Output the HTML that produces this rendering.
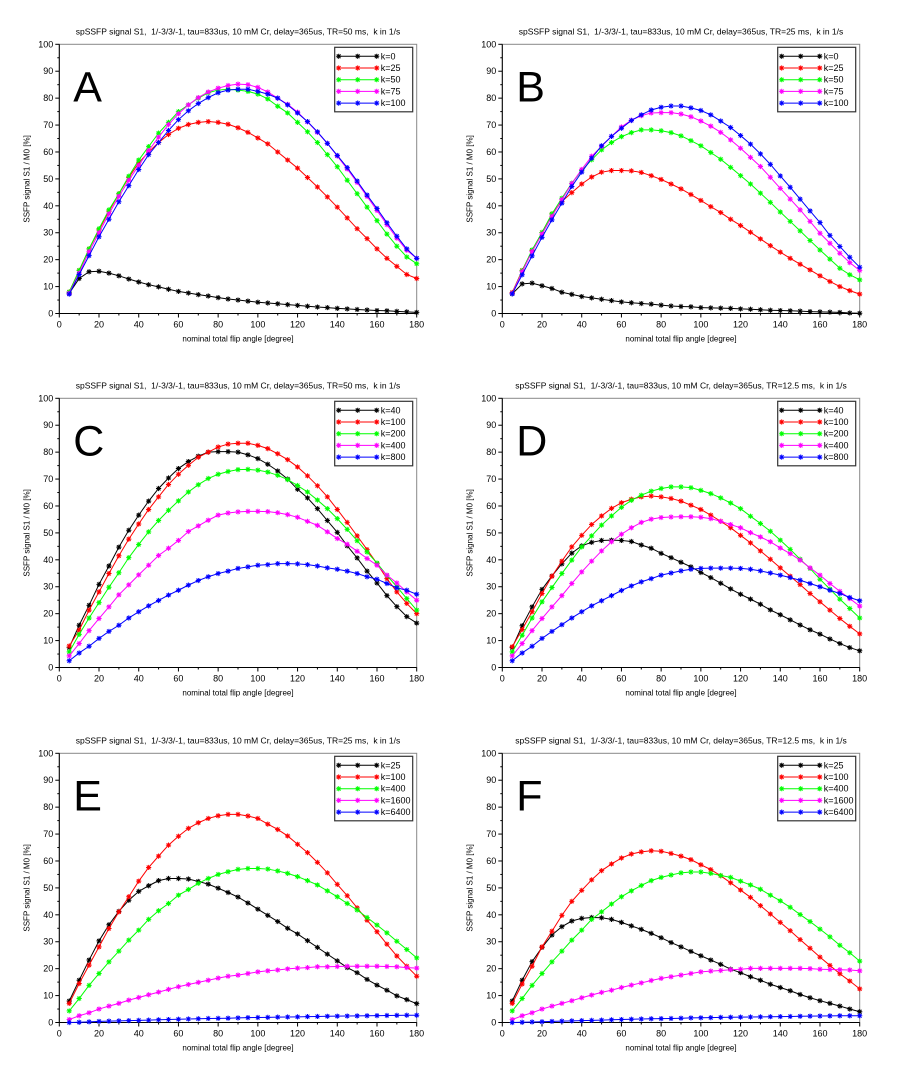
<!DOCTYPE html>
<html><head><meta charset="utf-8">
<style>
html,body{margin:0;padding:0;background:#fff;}
svg{display:block;font-family:"Liberation Sans","DejaVu Sans",sans-serif;}
</style></head>
<body>
<svg id="fig" width="920" height="1068" viewBox="0 0 920 1068" xmlns="http://www.w3.org/2000/svg"></svg>
<script>
const anglesX = [5,10,15,20,25,30,35,40,45,50,55,60,65,70,75,80,85,90,95,100,105,110,115,120,125,130,135,140,145,150,155,160,165,170,175,180];
const xTicks = [0,20,40,60,80,100,120,140,160,180];
const yTicks = [0,10,20,30,40,50,60,70,80,90,100];
const colors = ["#000000","#ff0000","#00ff00","#ff00ff","#0000ff"];
const panelLetters = ["A","B","C","D","E","F"];
const panelTR = ["50","25","50","12.5","25","12.5"];
const legendA = ["k=0","k=25","k=50","k=75","k=100"];
const legendC = ["k=40","k=100","k=200","k=400","k=800"];
const legendE = ["k=25","k=100","k=400","k=1600","k=6400"];

const A0 = [7.5,13,15.5,15.7,15,14,12.8,11.7,10.7,9.9,9,8.2,7.6,7,6.5,5.9,5.4,5,4.6,4.2,3.9,3.6,3.3,3,2.7,2.4,2.2,1.9,1.7,1.5,1.3,1.1,1,0.8,0.6,0.4];
const A1 = [8,16,24,31,38,44.5,50.5,56,60,63.5,66.5,68.8,70.2,71,71.3,71,70.3,69,67.3,65.2,63,60,57,54,50.5,47,43.3,39.5,35.5,31.5,27.8,24,20.5,17.5,14.5,13];
const A2 = [8,16,24,31.5,38.5,44.5,51,57,62,67,71,75,77.5,80,82,83,83.3,83,82.5,81.5,79.7,77,74.5,71,67.5,63.5,59,54.5,49.5,44.5,39.5,34.5,29.5,25,21,18.5];
const A3 = [7.5,15,23,30,37,43.5,49.5,55,60.5,65.5,70.2,74.2,77.5,80.2,82.3,83.7,84.7,85.2,85,84,82.3,80,77.7,74.8,71.2,67.3,63.2,58.5,53.7,48.7,43.5,38.3,33,28,23.5,20.5];
const A4 = [7.2,14.5,21.5,28.5,35,41.5,47.5,53.5,59,63.5,68,72,75.3,78,80.2,82,83,83.3,83.3,82.5,81.5,80,77.5,74.5,71.3,67.5,63.2,58.7,54.2,49.2,44,39,33.7,28.7,24,20.5];

const B0 = [7.3,11,11.3,10.3,9.3,7.9,7.1,6.3,5.8,5.3,4.8,4.3,4,3.7,3.5,3.1,2.8,2.6,2.5,2.2,2.1,2,1.9,1.7,1.6,1.4,1.2,1.1,1,0.9,0.7,0.6,0.5,0.4,0.2,0.1];
const B1 = [7.8,16,23.4,30.1,37,41.6,44.9,48.1,50.7,52.5,53.1,53.1,53,52.4,51.2,49.8,48.1,46.3,44.2,42,39.7,37.5,35,32.7,30.2,27.7,25.2,22.8,20.5,18.3,16.2,14,11.9,10,8.5,7.2];
const B2 = [7.5,15.9,23.6,30.1,37,42.8,48.4,53.1,57.1,60.8,63.5,65.7,67.2,68.2,68.2,67.9,67.2,66,64.2,62.3,59.8,57.3,54.3,51.2,48.1,44.7,41.3,37.7,34.2,30.7,27.1,23.6,20.2,16.8,14.4,12.5];
const B3 = [7.5,15.5,23,29.5,36.1,42.3,48.3,53.5,58.4,62.1,65.8,69.3,71.8,73.5,74.5,74.6,74.6,74.1,73.1,71.5,69.6,67.3,64.5,61.4,58,54.6,50.6,46.5,42.5,38.5,34.2,29.8,26.1,22.4,18.9,16];
const B4 = [7.3,14.4,21.4,28.3,34.8,41,47.2,52.5,57.7,62.3,65.8,68.8,71.7,73.8,75.6,76.6,77.1,77.1,76.4,75.4,73.8,71.5,69.1,66.1,62.9,59.3,55.4,51.1,46.9,42.5,38.1,33.8,29,24.9,20.9,17.2];

const C0 = [7.4,15.7,23.1,30.9,37.7,44.7,51,56.6,61.8,66.5,70.4,73.9,76.5,78.5,80,80.2,80.2,80,79,77.6,75.5,73,70,66.2,63,59,54.6,50.2,45.2,40.7,35.8,31.4,26.7,22.6,18.9,16.5];
const C1 = [8,13.9,21.3,28.1,34.9,41.5,47.7,53.3,58.7,63.4,68,71.8,75.1,78.1,80,81.9,83,83.3,83.3,82.5,81.3,79.4,77.2,74.5,71.2,67.5,63.4,58.7,53.9,48.9,43.8,38.6,33,28.1,23.8,20];
const C2 = [5.8,12.3,18.4,24.1,29.8,35.2,40.8,45.7,50.4,54.6,58.4,61.9,65.2,67.9,70.2,71.8,72.8,73.5,73.6,73.3,72.6,71.4,69.8,67.6,65.2,62.2,59,55.3,51.3,47.1,42.9,38.8,34.2,30,25.6,21.3];
const C3 = [4.3,8.9,13.7,18.2,22.5,27,30.7,34.4,38,41.6,44.3,47.2,50.5,52.6,54.7,56.6,57.4,57.8,58,58,57.9,57.5,56.8,55.8,54.3,52.8,50.4,47.9,45.8,43.2,40.5,38,34.3,31.4,28.1,25];
const C4 = [2.5,5.4,7.9,10.8,13.4,15.7,18.4,20.7,22.9,24.9,26.9,28.7,30.6,32.3,33.7,34.9,35.8,36.8,37.4,38,38.2,38.6,38.6,38.5,38.2,37.7,37,36.5,35.8,34.9,33.7,32.8,31.2,29.6,28.7,27.2];

const D0 = [7.4,15.5,22.5,29,34,38.5,42.5,45.2,46.5,47.2,47.3,47.2,46.8,45.5,44.3,42.4,40.8,39.1,37.4,35.3,33.4,31.3,29.2,27.2,25.4,23.5,21.4,19.6,17.7,15.8,14,12.4,10.6,8.9,7.4,6.2];
const D1 = [7.7,14.1,20.7,27.5,33.9,39.5,44.8,49.1,53.1,56.3,59.1,61.2,62.5,63.4,63.7,63.4,62.8,61.8,60.3,58.7,56.6,54.3,51.9,49.1,46.3,43.3,40.2,37,33.9,30.8,27.5,24.4,21.3,18.2,15.3,12.5];
const D2 = [5.8,12,18.4,24.4,29.7,34.9,39.9,44.8,48.9,52.9,56.3,59.5,62.1,64,65.5,66.5,67.1,67.1,66.8,65.8,64.6,63,61.1,59,56.2,53.5,50.6,47.3,43.9,40.2,36.8,32.8,29.1,25.4,21.9,18.4];
const D3 = [4.3,8.9,13.7,18.2,22.5,26.7,31.2,35.5,39.5,43.3,46.7,49.5,51.9,53.9,55.1,55.7,55.9,56,56,55.8,55.3,54.3,53.1,51.9,50.1,48.5,46.7,44.4,42.3,39.9,37,34.3,31.2,28.3,25.6,22.8];
const D4 = [2.5,5.4,7.9,10.8,13.4,15.9,18.4,20.7,22.9,24.8,26.7,28.6,30.3,31.8,33,34.3,35.1,35.9,36.5,36.8,36.9,36.9,36.9,36.8,36.5,35.9,35.1,34.3,33.4,32.4,31.2,30,28.7,27.5,26,24.8];

const E0 = [8,15.7,23.2,30.3,36.3,41.3,45.4,48.7,50.8,52.7,53.5,53.5,53.3,52.4,51.4,49.9,48.3,46.6,44.4,42.1,39.8,37.5,35,32.9,30.4,27.9,25.4,22.9,20.4,18.5,16,13.9,12,9.9,8.5,7];
const E1 = [7.1,14.5,21.3,28.1,34.9,41.1,46.7,52.5,57.6,61.8,65.9,69.2,72.1,74.2,75.8,76.8,77.3,77.3,76.7,75.8,73.7,71.7,69.3,66.2,63.1,59.5,55.6,51.3,47.1,42.6,38,33.7,29.1,24.7,20.9,17.2];
const E2 = [4.3,8.9,13.8,18.2,22.5,26.5,30.6,34.3,38.3,41.5,44.2,47.3,49.4,51.7,53.5,55,56,56.9,57.2,57.2,57,56.3,55.4,54.2,52.7,51.1,48.9,46.7,44.2,41.8,39,36.2,33.3,30.2,27.1,24];
const E3 = [1.1,2.5,3.6,5,6.1,7.1,8.3,9.3,10.3,11.3,12.3,13.3,14.1,14.9,15.7,16.5,17.2,17.6,18.2,18.8,19.2,19.5,19.9,20.2,20.4,20.7,20.7,20.8,20.9,20.9,20.9,20.9,20.8,20.7,20.4,20.2];
const E4 = [0,0.1,0.25,0.4,0.5,0.6,0.7,0.8,0.9,1,1.1,1.2,1.3,1.4,1.5,1.55,1.6,1.7,1.8,1.85,1.9,2,2.05,2.1,2.2,2.25,2.3,2.35,2.4,2.45,2.5,2.55,2.6,2.65,2.7,2.7];

const F0 = [8,15.7,22.6,27.9,32.5,35.6,37.7,38.7,39,38.9,38.3,37.2,35.9,34.6,33.1,31.5,29.7,28.1,26.4,24.8,23.2,21.6,19.8,18.5,17,15.7,14.2,13,11.8,10.4,9.2,8.1,7.1,6.1,5,4];
const F1 = [7.1,14.3,20.9,28.1,33.9,39.8,45,49.1,53,56.4,58.9,61.1,62.6,63.4,63.8,63.6,62.8,61.8,60.5,58.6,56.8,54.5,51.9,49.2,46.5,43.4,40.3,37.2,34.1,30.8,27.6,24.3,21.2,18.1,15.4,12.5];
const F2 = [4.3,8.9,13.8,18.2,22.5,26.5,30.6,34.3,38.3,41.1,44,46.7,48.9,50.9,52.7,53.9,54.8,55.6,55.9,55.9,55.4,54.6,53.9,52.5,51.1,49.5,47.3,45.2,42.8,40.1,37.5,34.7,31.8,28.7,25.9,22.8];
const F3 = [1.1,2.5,3.6,5,6.1,7.1,8.1,9.2,10.2,11.2,12,13,13.9,14.7,15.6,16.4,17,17.6,18.2,18.8,19.1,19.3,19.6,19.8,20.1,20.1,20.1,20.1,20.1,20.1,20,19.8,19.7,19.6,19.5,19.2];
const F4 = [0,0.1,0.2,0.3,0.4,0.5,0.6,0.7,0.8,0.9,1,1.1,1.2,1.3,1.4,1.45,1.5,1.6,1.7,1.75,1.8,1.9,1.95,2,2.05,2.1,2.15,2.2,2.25,2.3,2.35,2.4,2.45,2.5,2.5,2.5];

const panelSeries = [[A0,A1,A2,A3,A4],[B0,B1,B2,B3,B4],[C0,C1,C2,C3,C4],[D0,D1,D2,D3,D4],[E0,E1,E2,E3,E4],[F0,F1,F2,F3,F4]];
const panelLegends = [legendA,legendA,legendC,legendC,legendE,legendE];

const NS = "http://www.w3.org/2000/svg";
const svg = document.getElementById("fig");
function mk(tag, attrs, parent){
  const e = document.createElementNS(NS, tag);
  for (const k in attrs) e.setAttribute(k, attrs[k]);
  parent.appendChild(e);
  return e;
}
function star(g, cx, cy, col){
  const r = 2.6, d = 1.9;
  const p = mk("path", {d:`M${cx-r},${cy}H${cx+r}M${cx},${cy-r}V${cy+r}M${cx-d},${cy-d}L${cx+d},${cy+d}M${cx-d},${cy+d}L${cx+d},${cy-d}`, stroke:col, "stroke-width":1, fill:"none"}, g);
  
  
}

const colLeft = [59.3, 502.3];
const rowTop = [44.3, 398.3, 753.3];
const PW = 357.4, PH = 269.2;

for (let p = 0; p < 6; p++){
  const x0 = colLeft[p % 2], y0 = rowTop[Math.floor(p / 2)];
  const xs = v => x0 + v / 180 * PW;
  const ys = v => y0 + PH - v / 100 * PH;
  const g = mk("g", {}, svg);
  
  

  const t = mk("text", {x: x0 + PW/2, y: y0 - 10, "font-size": 8.5, "text-anchor":"middle", fill:"#000"}, g);
  t.textContent = "spSSFP signal S1,  1/-3/3/-1, tau=833us, 10 mM Cr, delay=365us, TR=" + panelTR[p] + " ms,  k in 1/s";
  
  
  t.style.whiteSpace = "pre";

  const fr = mk("rect", {x:x0, y:y0, width:PW, height:PH, fill:"none", stroke:"#888", "stroke-width":1}, g);
  
  

  const ax = mk("path", {d:`M${x0},${y0}V${y0+PH}H${x0+PW}`, stroke:"#000", "stroke-width":1, fill:"none"}, g);
  
  

  for (let v = 0; v <= 180; v += 10){
    const major = v % 20 === 0;
    const tk = mk("line", {x1:xs(v), x2:xs(v), y1:y0+PH, y2:y0+PH+(major?4:2), stroke:"#000", "stroke-width":1}, g);
    
    
  }
  xTicks.forEach(v => {
    const l = mk("text", {x:xs(v), y:y0+PH+14, "font-size":9, "text-anchor":"middle", fill:"#000"}, g);
    l.textContent = v;
    
    
  });
  for (let v = 0; v <= 100; v += 5){
    const major = v % 10 === 0;
    const tk = mk("line", {x1:x0-(major?4:2), x2:x0, y1:ys(v), y2:ys(v), stroke:"#000", "stroke-width":1}, g);
    
    
  }
  yTicks.forEach(v => {
    const l = mk("text", {x:x0-6, y:ys(v)+3, "font-size":9, "text-anchor":"end", fill:"#000"}, g);
    l.textContent = v;
    
    
  });

  const xl = mk("text", {x:x0+PW/2, y:y0+PH+28, "font-size":8, "text-anchor":"middle", fill:"#000"}, g);
  xl.textContent = "nominal total flip angle [degree]";
  
  
  const yl = mk("text", {x:0, y:0, "font-size":8, "text-anchor":"middle", fill:"#000", transform:`translate(${x0-30},${y0+PH/2}) rotate(-90)`}, g);
  yl.textContent = "SSFP signal S1 / M0 [%]";
  
  

  const big = mk("text", {x:x0+14, y:y0+57, "font-size":43, fill:"#000"}, g);
  big.textContent = panelLetters[p];
  
  

  panelSeries[p].forEach((ser, si) => {
    const sg = mk("g", {}, g);
    
    
    const d = ser.map((v, i) => (i ? "L" : "M") + xs(anglesX[i]).toFixed(2) + "," + ys(v).toFixed(2)).join("");
    const ln = mk("path", {d:d, stroke:colors[si], "stroke-width":1, fill:"none"}, sg);
    
    
    ser.forEach((v, i) => star(sg, xs(anglesX[i]), ys(v), colors[si]));
  });

  const lx = x0 + PW - 82, ly = y0 + 3;
  const lg = mk("g", {}, g);
  
  
  const lb = mk("rect", {x:lx, y:ly, width:78, height:64.5, fill:"#fff", stroke:"#333", "stroke-width":1.2}, lg);
  
  
  panelLegends[p].forEach((name, i) => {
    const yy = ly + 9 + i * 11.7;
    const eg = mk("g", {}, lg);
    
    
    mk("line", {x1:lx+3, x2:lx+42, y1:yy, y2:yy, stroke:colors[i], "stroke-width":1}, eg);
    [lx+4, lx+23, lx+42].forEach(mx => star(eg, mx, yy, colors[i]));
    const tx = mk("text", {x:lx+46, y:yy+3, "font-size":9, fill:"#000"}, eg);
    tx.textContent = name;
    
    
  });
}
</script>
</body></html>
